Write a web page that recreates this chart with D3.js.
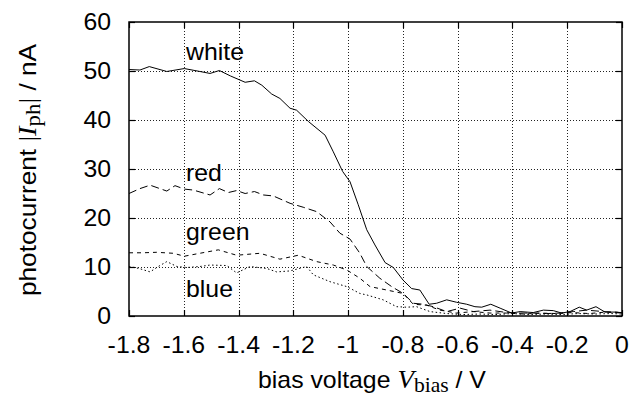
<!DOCTYPE html>
<html><head><meta charset="utf-8">
<script src="https://cdn.jsdelivr.net/npm/d3@7"></script>
<style>
html,body{margin:0;padding:0;background:#fff;}
svg{display:block;}
text{font-family:"Liberation Sans",Arial,Helvetica,sans-serif;fill:#000;}
</style></head>
<body>
<svg id="chart" width="634" height="401"></svg>
<script>
// ---- data ----
const xTicks = [-1.8,-1.6,-1.4,-1.2,-1.0,-0.8,-0.6,-0.4,-0.2,0];
const xTickLabels = ["-1.8","-1.6","-1.4","-1.2","-1","-0.8","-0.6","-0.4","-0.2","0"];
const yTicks = [0,10,20,30,40,50,60];
const yTickLabels = ["0","10","20","30","40","50","60"];
const seriesNames = ["white","red","green","blue"];

const white = [[-1.8,50.3],[-1.76,50.2],[-1.726,50.9],[-1.662,49.9],[-1.598,50.5],[-1.541,49.9],[-1.504,49.5],[-1.47,50.1],[-1.43,49.0],[-1.376,47.7],[-1.342,48.0],[-1.315,47.1],[-1.279,45.3],[-1.249,44.4],[-1.212,42.4],[-1.188,42.0],[-1.145,39.7],[-1.084,36.9],[-1.054,33.5],[-1.02,29.5],[-0.993,27.4],[-0.963,22.7],[-0.932,17.6],[-0.902,14.5],[-0.865,10.9],[-0.835,9.9],[-0.799,7.3],[-0.768,5.6],[-0.738,5.3],[-0.704,2.4],[-0.677,2.6],[-0.64,3.3],[-0.604,2.8],[-0.567,2.4],[-0.537,1.9],[-0.512,1.8],[-0.479,2.4],[-0.445,1.6],[-0.403,0.6],[-0.372,0.9],[-0.324,0.7],[-0.287,1.2],[-0.251,1.1],[-0.22,0.6],[-0.19,0.9],[-0.156,1.8],[-0.129,1.2],[-0.095,1.9],[-0.062,0.8],[-0.02,0.8],[0,0.6]];
const red = [[-1.8,25.0],[-1.76,26.0],[-1.723,26.7],[-1.662,25.5],[-1.632,26.6],[-1.598,25.9],[-1.565,25.7],[-1.504,24.7],[-1.47,26.0],[-1.437,25.2],[-1.407,25.6],[-1.376,25.0],[-1.342,25.4],[-1.309,24.7],[-1.273,24.5],[-1.212,23.0],[-1.164,22.2],[-1.115,21.3],[-1.066,19.2],[-1.03,16.9],[-0.993,15.7],[-0.957,12.8],[-0.932,10.1],[-0.884,7.7],[-0.841,6.0],[-0.799,4.6],[-0.762,2.6],[-0.726,2.4],[-0.689,1.9],[-0.64,0.9],[-0.591,1.6],[-0.543,0.9],[-0.482,1.2],[-0.421,0.7],[-0.372,0.6],[-0.324,0.6],[-0.275,0.5],[-0.226,0.6],[-0.178,0.9],[-0.129,1.2],[-0.068,0.9],[0,0.7]];
const green = [[-1.8,12.9],[-1.75,12.9],[-1.70,13.0],[-1.638,12.8],[-1.598,12.2],[-1.541,12.8],[-1.474,13.5],[-1.407,12.4],[-1.322,12.8],[-1.249,11.6],[-1.182,12.4],[-1.115,11.1],[-1.054,10.4],[-1.005,9.4],[-0.957,7.7],[-0.92,6.0],[-0.859,5.3],[-0.799,4.6],[-0.762,2.4],[-0.713,2.2],[-0.665,1.2],[-0.604,0.6],[-0.543,0.9],[-0.482,0.6],[-0.421,0.6],[-0.36,0.4],[-0.3,0.6],[-0.24,0.5],[-0.18,0.7],[-0.12,0.5],[-0.06,0.8],[0,0.6]];
const blue = [[-1.8,10.1],[-1.763,9.7],[-1.723,9.0],[-1.693,10.1],[-1.662,11.1],[-1.625,10.1],[-1.589,9.9],[-1.541,10.1],[-1.504,10.4],[-1.443,10.3],[-1.407,8.8],[-1.358,10.1],[-1.297,9.7],[-1.261,9.0],[-1.212,9.2],[-1.151,10.1],[-1.127,8.4],[-1.066,7.0],[-1.005,6.0],[-0.957,4.6],[-0.932,4.3],[-0.872,3.3],[-0.823,1.9],[-0.787,1.8],[-0.75,1.9],[-0.701,0.9],[-0.64,0.5],[-0.58,0.3],[-0.52,0.4],[-0.46,0.3],[-0.4,0.5],[-0.34,0.3],[-0.28,0.4],[-0.22,0.3],[-0.16,0.5],[-0.1,0.4],[-0.04,0.5],[0,0.4]];

// ---- layout ----
const svg = d3.select("#chart");
const L = 129, R = 622, T = 22, B = 316;
const FS = 23, SX = 1.08;
const SERIF = "Liberation Serif, Times New Roman, serif";
const x = d3.scaleLinear().domain([-1.8,0]).range([L,R]);
const y = d3.scaleLinear().domain([0,60]).range([B,T]);

// grid
const grid = svg.append("g").attr("stroke","#222").attr("stroke-width",1).attr("stroke-dasharray","1,2");
grid.selectAll(".gx").data(xTicks.slice(1,-1)).enter().append("line")
  .attr("x1",d=>Math.round(x(d))+0.5).attr("x2",d=>Math.round(x(d))+0.5).attr("y1",T).attr("y2",B);
grid.selectAll(".gy").data(yTicks.slice(1,-1)).enter().append("line")
  .attr("y1",d=>Math.round(y(d))+0.5).attr("y2",d=>Math.round(y(d))+0.5).attr("x1",L).attr("x2",R);

// ticks (inward, mirrored)
const tk = svg.append("g").attr("stroke","#000").attr("stroke-width",1.2);
xTicks.forEach(v=>{
  const px = Math.round(x(v))+0.5;
  tk.append("line").attr("x1",px).attr("x2",px).attr("y1",B).attr("y2",B-6);
  tk.append("line").attr("x1",px).attr("x2",px).attr("y1",T).attr("y2",T+6);
});
yTicks.forEach(v=>{
  const py = Math.round(y(v))+0.5;
  tk.append("line").attr("x1",L).attr("x2",L+6).attr("y1",py).attr("y2",py);
  tk.append("line").attr("x1",R).attr("x2",R-6).attr("y1",py).attr("y2",py);
});

// lines
const line = d3.line().x(d=>x(d[0])).y(d=>y(d[1]));
const styles = {white:"none", red:"8,4", green:"4,4", blue:"1.5,2.5"};
const data = {white, red, green, blue};
seriesNames.forEach(n=>{
  svg.append("path").datum(data[n]).attr("d",line).attr("fill","none")
    .attr("stroke","#000").attr("stroke-width",1)
    .attr("stroke-dasharray",styles[n]==="none"?null:styles[n]);
});

// frame
svg.append("rect").attr("x",L).attr("y",T).attr("width",R-L).attr("height",B-T)
  .attr("fill","none").attr("stroke","#000").attr("stroke-width",1.5);

// tick labels
xTicks.forEach((v,i)=>{
  svg.append("text").attr("transform",`translate(${x(v)},353) scale(${SX},1)`)
    .attr("text-anchor","middle").attr("font-size",FS).text(xTickLabels[i]);
});
yTicks.forEach((v,i)=>{
  svg.append("text").attr("transform",`translate(111,${y(v)+7.5}) scale(${SX},1)`)
    .attr("text-anchor","end").attr("font-size",FS).text(yTickLabels[i]);
});

// series labels
const labelPos = {white:[186,60], red:[186,181], green:[186,240], blue:[186,297]};
seriesNames.forEach(n=>{
  svg.append("text").attr("transform",`translate(${labelPos[n][0]},${labelPos[n][1]}) scale(${SX},1)`)
    .attr("font-size",FS).text(n);
});

// x title
const xt = svg.append("text").attr("transform",`translate(258,388) scale(${SX},1)`).attr("font-size",FS);
xt.append("tspan").text("bias voltage ");
xt.append("tspan").attr("font-family",SERIF).attr("font-style","italic").attr("font-size",25).text("V");
xt.append("tspan").attr("font-family",SERIF).attr("font-size",20).attr("dy",4).text("bias");
xt.append("tspan").attr("dy",-4).text(" / V");

// y title
const yt = svg.append("text").attr("transform",`translate(36,170) rotate(-90) scale(1.14,1)`)
  .attr("text-anchor","middle").attr("font-size",FS);
yt.append("tspan").text("photocurrent ");
yt.append("tspan").attr("font-family",SERIF).attr("font-size",25).text("|");
yt.append("tspan").attr("font-family",SERIF).attr("font-style","italic").attr("font-size",25).text("I");
yt.append("tspan").attr("font-family",SERIF).attr("font-size",20).attr("dy",4).text("ph");
yt.append("tspan").attr("font-family",SERIF).attr("font-size",25).attr("dy",-4).text("|");
yt.append("tspan").text(" / nA");
</script>
</body></html>
